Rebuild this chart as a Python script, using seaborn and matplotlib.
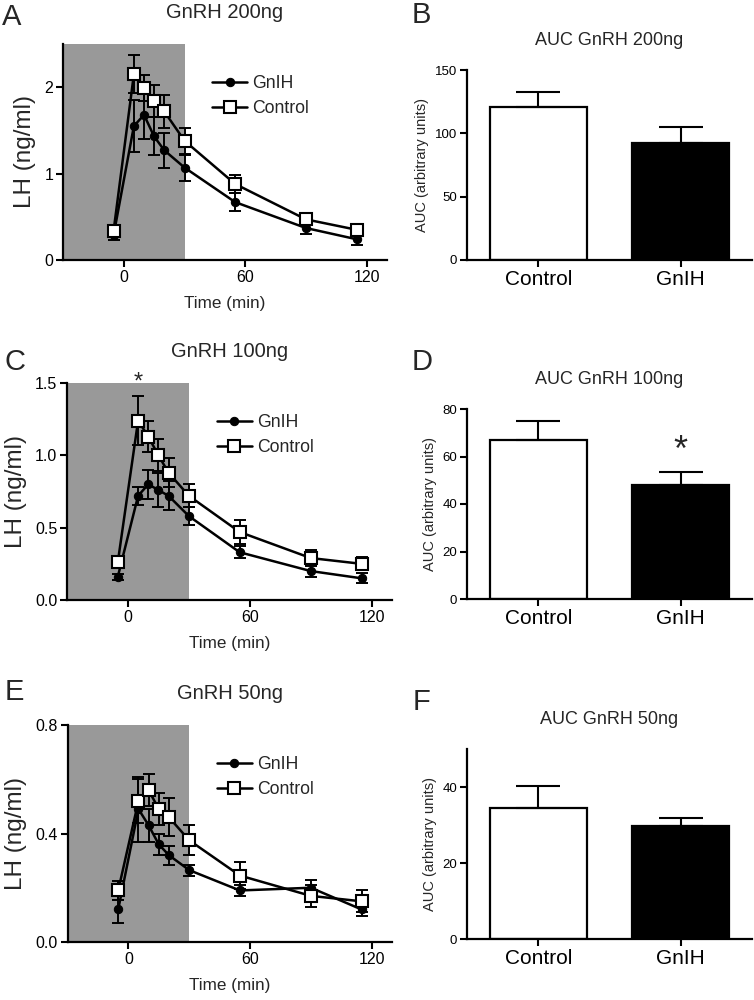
import matplotlib
matplotlib.use("Agg")
import matplotlib.pyplot as plt
import seaborn as sns
import numpy as np

# sampling times (min)
time = [-5, 5, 10, 15, 20, 30, 55, 90, 115]

# LH (ng/ml), mean and sem
ctrl_200 = [0.34, 2.15, 1.99, 1.84, 1.72, 1.38, 0.88, 0.47, 0.35]
ctrl_200_err = [0.05, 0.22, 0.15, 0.19, 0.19, 0.15, 0.10, 0.07, 0.07]
gnih_200 = [0.29, 1.55, 1.68, 1.43, 1.27, 1.07, 0.67, 0.37, 0.24]
gnih_200_err = [0.06, 0.30, 0.28, 0.22, 0.20, 0.15, 0.10, 0.07, 0.07]

ctrl_100 = [0.26, 1.24, 1.13, 1.00, 0.88, 0.72, 0.47, 0.29, 0.25]
ctrl_100_err = [0.03, 0.17, 0.11, 0.11, 0.10, 0.08, 0.08, 0.055, 0.045]
gnih_100 = [0.16, 0.72, 0.80, 0.76, 0.72, 0.58, 0.33, 0.20, 0.15]
gnih_100_err = [0.02, 0.06, 0.10, 0.12, 0.10, 0.06, 0.04, 0.04, 0.035]

ctrl_50 = [0.19, 0.52, 0.56, 0.49, 0.46, 0.375, 0.245, 0.17, 0.15]
ctrl_50_err = [0.035, 0.08, 0.06, 0.06, 0.07, 0.055, 0.05, 0.04, 0.04]
gnih_50 = [0.12, 0.49, 0.43, 0.36, 0.32, 0.265, 0.19, 0.20, 0.12]
gnih_50_err = [0.05, 0.12, 0.06, 0.04, 0.035, 0.02, 0.02, 0.03, 0.025]

# AUC (arbitrary units)
groups = ["Control", "GnIH"]
auc_200 = [120.5, 92]
auc_200_err = [12.5, 13]
auc_100 = [67, 48]
auc_100_err = [8, 5.3]
auc_50 = [34.5, 29.8]
auc_50_err = [5.7, 2.1]

sns.set_style("ticks")
plt.rcParams['font.family'] = ['Liberation Sans', 'DejaVu Sans']

W, H = 754, 1000


def rect(l, r, t, b):
    return [l / W, 1 - b / H, (r - l) / W, (b - t) / H]


def style_axes(ax, tick_size):
    for s in ['top', 'right']:
        ax.spines[s].set_visible(False)
    for s in ['left', 'bottom']:
        ax.spines[s].set_linewidth(1.6)
        ax.spines[s].set_color('black')
    ax.tick_params(direction='out', length=5, width=1.5, colors='black',
                   labelsize=tick_size, pad=2)


def line_panel(ax, ctrl, ctrl_err, gnih, gnih_err, ymax, yticks, yticklabels, title):
    ax.axvspan(-30, 30, color='#999999', lw=0, zorder=0)
    ax.errorbar(time, gnih, yerr=gnih_err, fmt='none', ecolor='black',
                elinewidth=1.4, capsize=4, capthick=1.4, zorder=2)
    sns.lineplot(x=time, y=gnih, color='black', marker='o', markersize=6,
                 markeredgecolor='black', linewidth=1.8, label='GnIH', ax=ax, zorder=3)
    ax.errorbar(time, ctrl, yerr=ctrl_err, fmt='none', ecolor='black',
                elinewidth=1.4, capsize=4, capthick=1.4, zorder=4)
    sns.lineplot(x=time, y=ctrl, color='black', marker='s', markersize=8,
                 markerfacecolor='white', markeredgecolor='black', markeredgewidth=1.5,
                 linewidth=1.8, label='Control', ax=ax, zorder=5)
    ax.set_xlim(-30, 130)
    ax.set_ylim(0, ymax)
    ax.set_xticks([0, 60, 120])
    ax.set_yticks(yticks)
    ax.set_yticklabels(yticklabels)
    style_axes(ax, 11.5)
    ax.set_xlabel('Time (min)', fontsize=12.3, labelpad=8)
    ax.set_ylabel('LH (ng/ml)', fontsize=17.5, labelpad=6)
    ax.set_title(title, fontsize=14.5, pad=19)
    ax.legend(frameon=False, loc='upper left', bbox_to_anchor=(0.46, 0.855),
              fontsize=12.7, handlelength=2.0, handletextpad=0.3,
              labelspacing=0.45, borderpad=0, borderaxespad=0)


def bar_panel(ax, vals, errs, ymax, yticks, title):
    sns.barplot(x=groups, y=vals, hue=groups, palette={'Control': 'white', 'GnIH': 'black'},
                edgecolor='black', linewidth=1.6, width=0.68, legend=False, ax=ax)
    pos = np.arange(len(groups))
    ax.errorbar(pos, vals, yerr=[np.zeros(len(errs)), errs], fmt='none', ecolor='black',
                elinewidth=1.5, capsize=16, capthick=1.5, zorder=5)
    ax.set_xlim(-0.5, 1.5)
    ax.set_ylim(0, ymax)
    ax.set_yticks(yticks)
    style_axes(ax, 9.5)
    ax.tick_params(axis='x', labelsize=15)
    ax.set_ylabel('AUC (arbitrary units)', fontsize=10.5, labelpad=4)
    ax.set_title(title, fontsize=13, pad=18)


fig = plt.figure(figsize=(W / 100, H / 100), dpi=100)

axA = fig.add_axes(rect(63, 387, 44, 260))
line_panel(axA, ctrl_200, ctrl_200_err, gnih_200, gnih_200_err, 2.5, [0, 1, 2],
           ['0', '1', '2'], 'GnRH 200ng')
axC = fig.add_axes(rect(67, 392, 383, 600))
line_panel(axC, ctrl_100, ctrl_100_err, gnih_100, gnih_100_err, 1.5, [0, 0.5, 1.0, 1.5],
           ['0.0', '0.5', '1.0', '1.5'], 'GnRH 100ng')
axC.text(5, 1.5, '*', fontsize=17, ha='center', va='center', clip_on=False)
axE = fig.add_axes(rect(67.5, 392, 725, 942))
line_panel(axE, ctrl_50, ctrl_50_err, gnih_50, gnih_50_err, 0.8, [0, 0.4, 0.8],
           ['0.0', '0.4', '0.8'], 'GnRH 50ng')

axB = fig.add_axes(rect(467, 752, 70, 260))
bar_panel(axB, auc_200, auc_200_err, 150, [0, 50, 100, 150], 'AUC GnRH 200ng')
axD = fig.add_axes(rect(467, 752, 409, 599))
bar_panel(axD, auc_100, auc_100_err, 80, [0, 20, 40, 60, 80], 'AUC GnRH 100ng')
axD.text(1, 62, '*', fontsize=26, ha='center', va='center')
axF = fig.add_axes(rect(467, 752, 749, 939))
bar_panel(axF, auc_50, auc_50_err, 50, [0, 20, 40], 'AUC GnRH 50ng')

# panel letters
for letter, x, y in [('A', 2, 25), ('C', 5, 370), ('E', 5, 700),
                     ('B', 412, 23), ('D', 412, 370), ('F', 413, 710)]:
    fig.text(x / W, 1 - y / H, letter, fontsize=21, va='baseline', ha='left')

fig.savefig('out.png', dpi=100)
